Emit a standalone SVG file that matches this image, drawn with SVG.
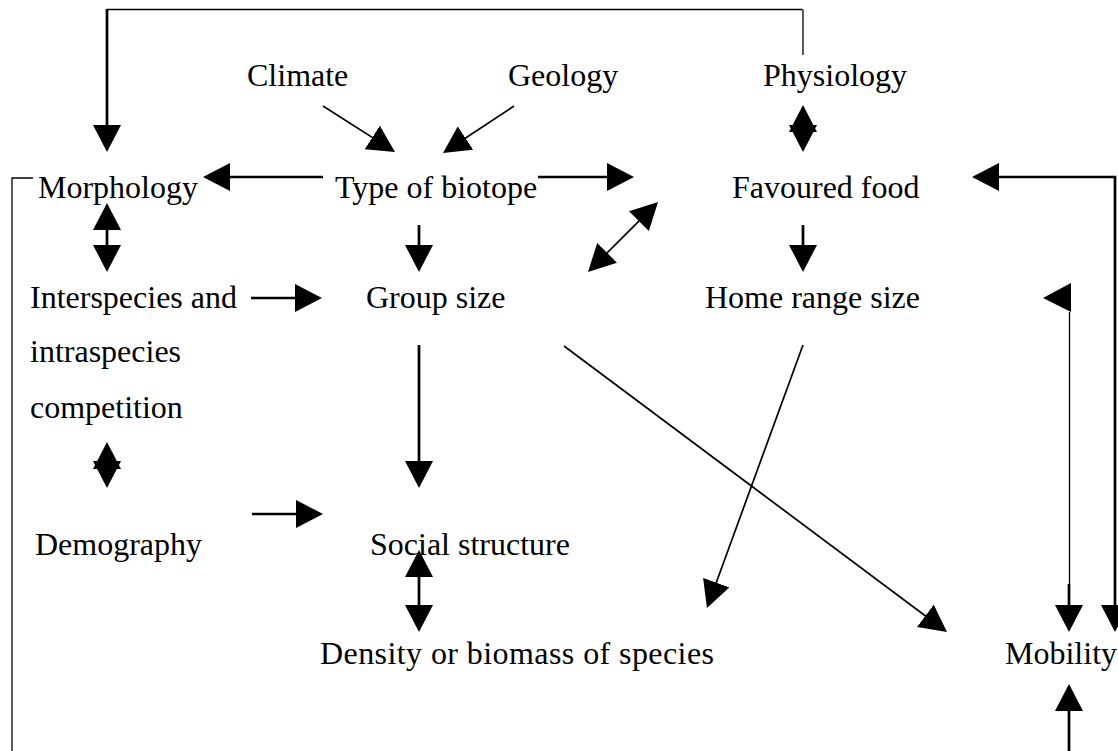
<svg xmlns="http://www.w3.org/2000/svg" width="1118" height="751" viewBox="0 0 1118 751">
<style>
text{font-family:"Liberation Serif","Times New Roman",serif;font-size:32px;fill:#000}
.thick{stroke:#000;stroke-width:2.7;fill:none}
.mid{stroke:#000;stroke-width:1.7;fill:none}
.thin{stroke:#000;stroke-width:1.3;fill:none}
.a{marker-end:url(#ah)}
.aa{marker-start:url(#ah);marker-end:url(#ah)}
</style>
<defs>
<marker id="ah" viewBox="0 0 27 28" markerWidth="27" markerHeight="28" refX="24" refY="14" orient="auto-start-reverse" markerUnits="userSpaceOnUse">
<path d="M0,0 L27,14 L0,28 Z" fill="#000"/>
</marker>
</defs>
<rect width="1118" height="751" fill="#fff"/>
<g id="climate"><text x="247" y="86">Climate</text></g>
<g id="geology"><text x="508" y="86">Geology</text></g>
<g id="physiology"><text x="763" y="86">Physiology</text></g>
<g id="morphology"><text x="38" y="198">Morphology</text></g>
<g id="biotope"><text x="335" y="198">Type of biotope</text></g>
<g id="food"><text x="732" y="198">Favoured food</text></g>
<g id="competition"><text x="30" y="308">Interspecies and</text><text x="30" y="362">intraspecies</text><text x="30" y="418">competition</text></g>
<g id="group"><text x="366" y="308">Group size</text></g>
<g id="homerange"><text x="705" y="308">Home range size</text></g>
<g id="demography"><text x="35" y="555">Demography</text></g>
<g id="social"><text x="370" y="555">Social structure</text></g>
<g id="density"><text x="320" y="664" textLength="394" lengthAdjust="spacing">Density or biomass of species</text></g>
<g id="mobility"><text x="1005" y="664">Mobility</text></g>
<g id="connectors">
<path class="thin" d="M803,55 V9.5"/>
<path class="mid" d="M802.5,9.5 H107"/>
<path class="thick a" d="M107,9 V149"/>
<path class="mid a" d="M323,106 L392.5,150.4"/>
<path class="mid a" d="M514,106 L445.5,151.3"/>
<path class="thick aa" d="M803,108 V149"/>
<path class="thick a" d="M323,177 H206"/>
<path class="thick a" d="M538,177 H631"/>
<path class="thick aa" d="M975,177 H1115 V629"/>
<path class="thick aa" d="M107,206 V269"/>
<path class="thick a" d="M251,298 H319"/>
<path class="thick a" d="M419,225 V269"/>
<path class="mid aa" d="M590.1,269.9 L655.9,204.1"/>
<path class="thick a" d="M803,225 V269"/>
<path class="thick a" d="M419,345 V485"/>
<path class="mid a" d="M803,345 L708,605.2"/>
<path class="mid a" d="M564,346 L944.6,630.2"/>
<polygon points="1043,298 1071,283 1071,312" fill="#000"/>
<path class="thin" d="M1069.5,312 V585"/>
<path class="thick a" d="M1069,584 V629"/>
<path class="thick aa" d="M107,445 V485"/>
<path class="thick a" d="M252,514 H320"/>
<path class="thick aa" d="M419,553 V629"/>
<path class="thick a" d="M1069,751 V687"/>
<path class="thin" d="M33,178 H12 V751"/>
</g>
</svg>
